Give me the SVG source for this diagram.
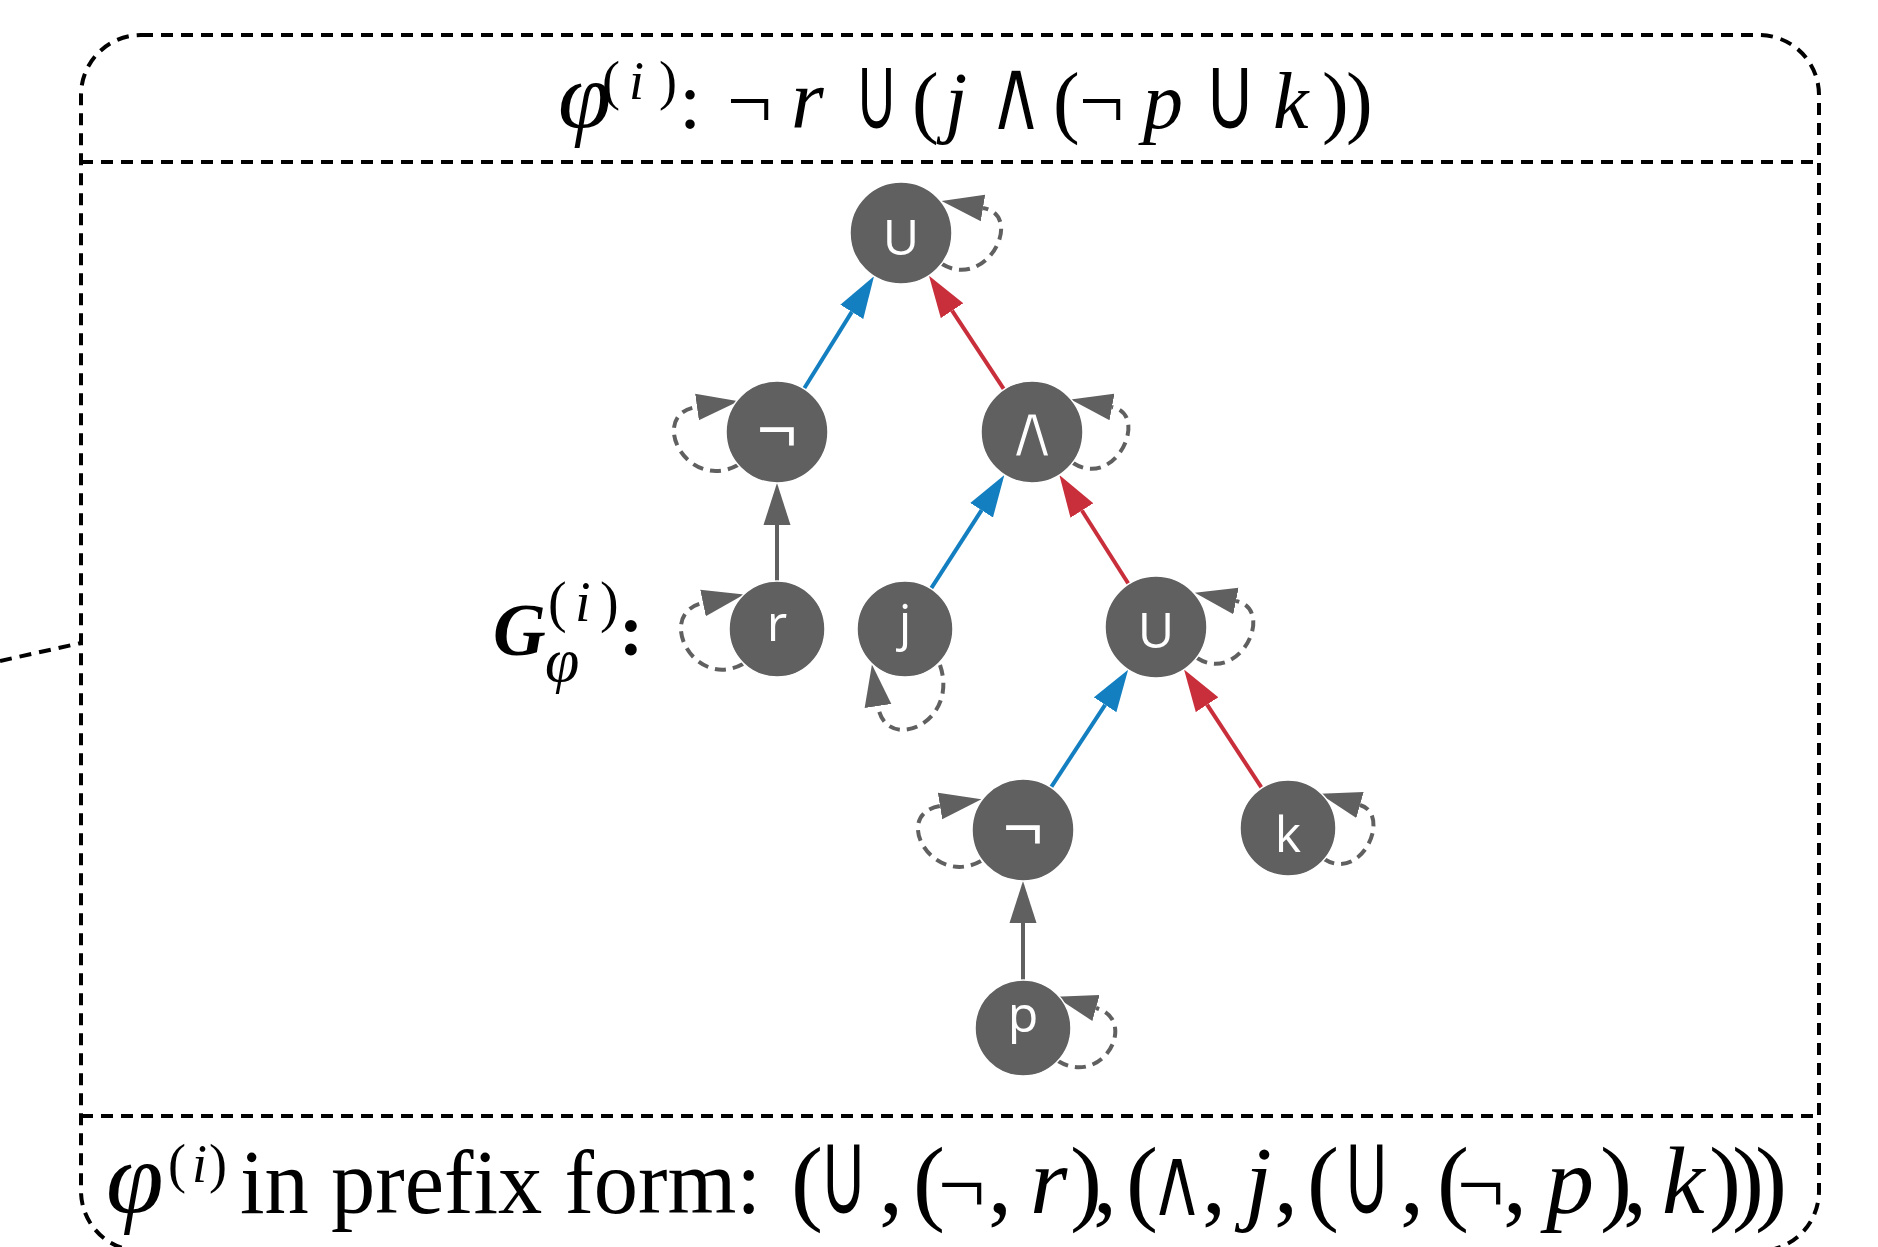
<svg xmlns="http://www.w3.org/2000/svg" width="1878" height="1247" viewBox="0 0 1878 1247">
<style>
.frame{fill:none;stroke:#000;stroke-width:4;stroke-dasharray:12 8}
.node circle{fill:#606060;stroke:#fff;stroke-width:1.5}
.node text{fill:#fff;font-family:"Open Sans","DejaVu Sans",sans-serif;font-size:50px;text-anchor:middle}
.node text.op{font-size:72px}
.node text.wd{font-family:"DejaVu Sans",sans-serif;font-size:76px;stroke:#606060;stroke-width:3}
.e{fill:none;stroke-width:4}
.blue{stroke:#137fc0}
.red{stroke:#c92e3b}
.gray{stroke:#606060}
.loop{fill:none;stroke:#606060;stroke-width:4;stroke-dasharray:11 7}
.math{font-family:"Liberation Serif","DejaVu Serif",serif;fill:#000}
.it{font-style:italic}
.cup{font-family:"Lato","Open Sans",sans-serif;font-weight:400}
.wedge{font-family:"DejaVu Sans",sans-serif;stroke:#fff;stroke-width:2}
</style>
<defs>
<marker id="ab" viewBox="0 0 42 28" markerWidth="42" markerHeight="28" refX="0" refY="14" orient="auto" markerUnits="userSpaceOnUse"><path d="M0,0.5 L42,14 L0,27.5 z" fill="#137fc0"/></marker>
<marker id="ar" viewBox="0 0 42 28" markerWidth="42" markerHeight="28" refX="0" refY="14" orient="auto" markerUnits="userSpaceOnUse"><path d="M0,0.5 L42,14 L0,27.5 z" fill="#c92e3b"/></marker>
<marker id="ag" viewBox="0 0 42 28" markerWidth="42" markerHeight="28" refX="0" refY="14" orient="auto" markerUnits="userSpaceOnUse"><path d="M0,0.5 L42,14 L0,27.5 z" fill="#606060"/></marker>
</defs>
<rect width="1878" height="1247" fill="#fff"/>

<g id="frame">
<rect class="frame" x="81" y="35" width="1738" height="1216" rx="60" ry="60"/>
<line class="frame" x1="81" y1="162" x2="1819" y2="162"/>
<line class="frame" x1="81" y1="1116" x2="1819" y2="1116"/>
</g>

<g id="title">
<text class="math" y="128" font-size="80"><tspan x="558" class="it" font-size="96">φ</tspan><tspan x="602" y="99" font-size="54">(</tspan><tspan x="629" class="it" font-size="54">i</tspan><tspan x="659" font-size="54">)</tspan><tspan x="679" y="128">:</tspan><tspan x="727">¬</tspan><tspan x="791" class="it" font-size="84">r</tspan><tspan x="858" class="cup" font-size="84" textLength="37" lengthAdjust="spacingAndGlyphs">U</tspan><tspan x="912">(</tspan><tspan x="945" class="it">j</tspan><tspan x="987" y="130" class="wedge" font-size="104" textLength="58" lengthAdjust="spacingAndGlyphs">∧</tspan><tspan x="1053" y="128">(</tspan><tspan x="1079">¬</tspan><tspan x="1143" class="it">p</tspan><tspan x="1208" class="cup" font-size="84" textLength="44" lengthAdjust="spacingAndGlyphs">U</tspan><tspan x="1273" class="it">k</tspan><tspan x="1322">)</tspan><tspan x="1346">)</tspan></text>
</g>

<g id="graph-label">
<text class="math" y="655" font-size="73"><tspan x="493" font-weight="bold" class="it">G</tspan><tspan x="548" y="621" font-size="56">(</tspan><tspan x="575" class="it" font-size="56">i</tspan><tspan x="600" font-size="56">)</tspan><tspan x="545" y="681" class="it" font-size="62">φ</tspan><tspan x="619" y="655" font-weight="bold">:</tspan></text>
</g>

<g id="connectors">
<line class="frame" x1="0" y1="661" x2="81" y2="643"/>
<line class="e blue" x1="804" y1="388.7" x2="851.8" y2="311.9" marker-end="url(#ab)"/>
<line class="e red" x1="1004" y1="389.4" x2="952.1" y2="310.7" marker-end="url(#ar)"/>
<line class="e gray" x1="777" y1="581" x2="777" y2="525" marker-end="url(#ag)"/>
<line class="e blue" x1="931" y1="588.7" x2="981.6" y2="510.2" marker-end="url(#ab)"/>
<line class="e red" x1="1128.6" y1="584" x2="1081.9" y2="510.5" marker-end="url(#ar)"/>
<line class="e blue" x1="1051" y1="787.3" x2="1105.1" y2="704.8" marker-end="url(#ab)"/>
<line class="e red" x1="1261.7" y1="787.9" x2="1207.1" y2="704.7" marker-end="url(#ar)"/>
<line class="e gray" x1="1023" y1="980" x2="1023" y2="923" marker-end="url(#ag)"/>
<path class="loop" transform="translate(901,233)" d="M41,31 C86,58 124,-18 82,-25" marker-end="url(#ag)"/>
<path class="loop" transform="translate(1032,432)" d="M41,31 C84,58 118,-18 80,-25" marker-end="url(#ag)"/>
<path class="loop" transform="translate(1156,627)" d="M41,31 C84,58 120,-18 80,-26" marker-end="url(#ag)"/>
<path class="loop" transform="translate(1288,828)" d="M36,31 C74,55 104,-14 72,-23" marker-end="url(#ag)"/>
<path class="loop" transform="translate(1023,1028)" d="M35,33 C80,60 116,-8 73,-20" marker-end="url(#ag)"/>
<path class="loop" transform="translate(777,432)" d="M-39,33 C-91,61 -130,-18 -80,-25" marker-end="url(#ag)"/>
<path class="loop" transform="translate(1023,830)" d="M-42,31 C-91,58 -132,-16 -83,-24" marker-end="url(#ag)"/>
<path class="loop" transform="translate(777,629)" d="M-34,35 C-84,62 -122,-16 -74,-26" marker-end="url(#ag)"/>
<path class="loop" transform="translate(905,629)" d="M35,36 C55,95 -20,125 -27,77" marker-end="url(#ag)"/>
</g>

<g id="n-until-top" class="node"><circle cx="901" cy="233" r="51"/><text x="901" y="255">U</text></g>
<g id="n-not-r" class="node"><circle cx="777" cy="432" r="51"/><text class="op" x="777" y="455">¬</text></g>
<g id="n-and" class="node"><circle cx="1032" cy="432" r="51"/><text class="wd" x="1032" y="457">∧</text></g>
<g id="n-r" class="node"><circle cx="777" cy="629" r="48"/><text x="777" y="641">r</text></g>
<g id="n-j" class="node"><circle cx="905" cy="629" r="48"/><text x="905" y="640">j</text></g>
<g id="n-until-mid" class="node"><circle cx="1156" cy="627" r="51"/><text x="1156" y="648">U</text></g>
<g id="n-not-p" class="node"><circle cx="1023" cy="830" r="51"/><text class="op" x="1023" y="853">¬</text></g>
<g id="n-k" class="node"><circle cx="1288" cy="828" r="48"/><text x="1288" y="852">k</text></g>
<g id="n-p" class="node"><circle cx="1023" cy="1028" r="48"/><text x="1023" y="1032">p</text></g>

<g id="prefix">
<text class="math" y="1213" font-size="96"><tspan x="106" class="it" font-size="104">φ</tspan><tspan x="168" y="1182" font-size="54">(</tspan><tspan x="192" class="it" font-size="54">i</tspan><tspan x="209" font-size="54">)</tspan><tspan x="240" y="1213" font-size="92" textLength="521" lengthAdjust="spacingAndGlyphs">in prefix form:</tspan><tspan x="791">(</tspan><tspan x="823" class="cup" font-size="95" textLength="41" lengthAdjust="spacingAndGlyphs">U</tspan><tspan x="879">,</tspan><tspan x="913">(</tspan><tspan x="938" font-size="84">¬</tspan><tspan x="988">,</tspan><tspan x="1030" class="it">r</tspan><tspan x="1070">)</tspan><tspan x="1093">,</tspan><tspan x="1126">(</tspan><tspan x="1148" y="1216" class="wedge" font-size="100" textLength="58" lengthAdjust="spacingAndGlyphs">∧</tspan><tspan x="1202" y="1213">,</tspan><tspan x="1245" class="it">j</tspan><tspan x="1274">,</tspan><tspan x="1307">(</tspan><tspan x="1346" class="cup" font-size="95" textLength="41" lengthAdjust="spacingAndGlyphs">U</tspan><tspan x="1400">,</tspan><tspan x="1437">(</tspan><tspan x="1457" font-size="84">¬</tspan><tspan x="1503">,</tspan><tspan x="1546" class="it">p</tspan><tspan x="1600">)</tspan><tspan x="1623">,</tspan><tspan x="1662" class="it">k</tspan><tspan x="1709">)</tspan><tspan x="1732">)</tspan><tspan x="1755">)</tspan></text>
</g>
</svg>
